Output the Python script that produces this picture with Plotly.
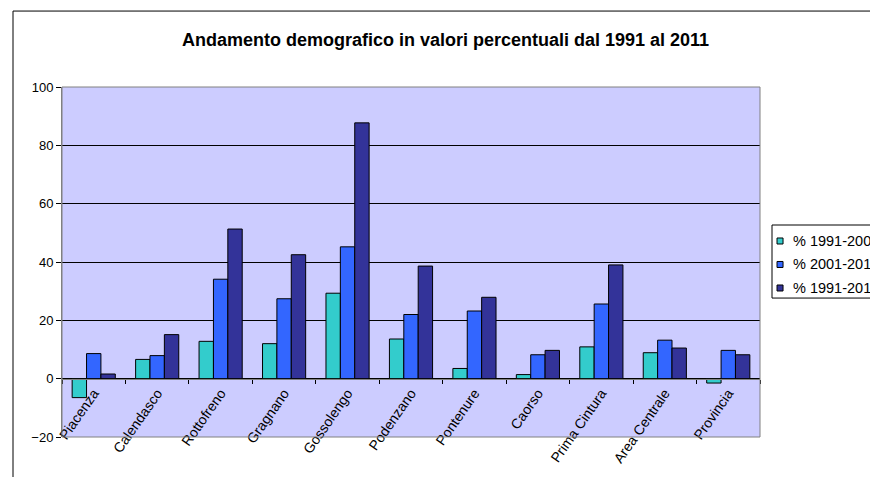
import plotly.graph_objects as go

comuni = ["Piacenza", "Calendasco", "Rottofreno", "Gragnano", "Gossolengo", "Podenzano",
          "Pontenure", "Caorso", "Prima Cintura", "Area Centrale", "Provincia"]
var_1991_2001 = [-6.5, 6.6, 12.8, 12.0, 29.3, 13.6, 3.5, 1.4, 10.9, 8.9, -1.5]
var_2001_2011 = [8.6, 7.9, 34.1, 27.4, 45.2, 22.0, 23.2, 8.2, 25.6, 13.2, 9.7]
var_1991_2011 = [1.6, 15.1, 51.3, 42.5, 87.7, 38.6, 27.9, 9.7, 39.0, 10.5, 8.2]

serie = [
    ("% 1991-2001", var_1991_2001, "#33CCCC"),
    ("% 2001-2011", var_2001_2011, "#3366FF"),
    ("% 1991-2011", var_1991_2011, "#333399"),
]

fig = go.Figure()
for nome, valori, colore in serie:
    fig.add_trace(go.Bar(
        x=comuni, y=valori, name=nome,
        marker=dict(color=colore, line=dict(color="black", width=1)),
    ))

fig.update_layout(
    width=870, height=477,
    margin=dict(l=62, r=110, t=87, b=40, autoexpand=False),
    font=dict(family="Liberation Sans, Arial, sans-serif", size=14, color="black"),
    paper_bgcolor="white",
    plot_bgcolor="#CCCCFF",
    barmode="group", bargap=0.32, bargroupgap=0,
    title=dict(text="<b>Andamento demografico in valori percentuali dal 1991 al 2011</b>",
               x=445.5 / 870, xref="container", xanchor="center",
               y=1 - 40 / 477, yref="container", yanchor="middle",
               font=dict(size=18)),
    showlegend=False,
)

fig.update_yaxes(
    range=[-20, 100], tickvals=[-20, 0, 20, 40, 60, 80, 100],
    showgrid=True, gridcolor="black", gridwidth=1, zeroline=False,
    showline=True, linecolor="#808080", linewidth=1,
    ticks="outside", ticklen=5, tickcolor="black",
    tickfont=dict(size=13),
)
fig.update_xaxes(
    anchor="free", position=20 / 120,
    showline=True, linecolor="#808080", linewidth=1,
    ticks="outside", ticklen=4, tickcolor="black", tickson="boundaries",
    tickangle=-55, showgrid=False, tickfont=dict(size=14),
)

# bordo dell'area del grafico e cornice esterna
fig.add_shape(type="rect", xref="paper", yref="paper", x0=0, x1=1, y0=0, y1=1,
              line=dict(color="#808080", width=1), layer="above")
fig.add_shape(type="rect", xref="paper", yref="paper",
              x0=-0.0702, x1=1.2, y0=-0.2, y1=1.217,
              line=dict(color="black", width=1))

# legenda disegnata a mano (come in Excel, tagliata a destra)
fig.add_shape(type="rect", xref="paper", yref="paper",
              x0=1.0172, x1=1.2, y0=0.397, y1=0.6057,
              line=dict(color="black", width=1), fillcolor="white")
leg_y = [0.56, 0.4929, 0.4257]
for (nome, valori, colore), yy in zip(serie, leg_y):
    fig.add_shape(type="rect", xref="paper", yref="paper",
                  x0=1.0244, x1=1.0330, y0=yy - 0.0086, y1=yy + 0.0086,
                  line=dict(color="black", width=1), fillcolor=colore)
    fig.add_annotation(text=nome, xref="paper", yref="paper", x=1.0444, y=yy,
                       xanchor="left", yanchor="middle", showarrow=False,
                       font=dict(size=14.5))

# niente margine della pagina, niente barre di scorrimento, niente modebar
fig.write_html("out.html", config={"displayModeBar": False},
               post_script="document.body.style.margin='0';document.body.style.overflow='hidden';")
